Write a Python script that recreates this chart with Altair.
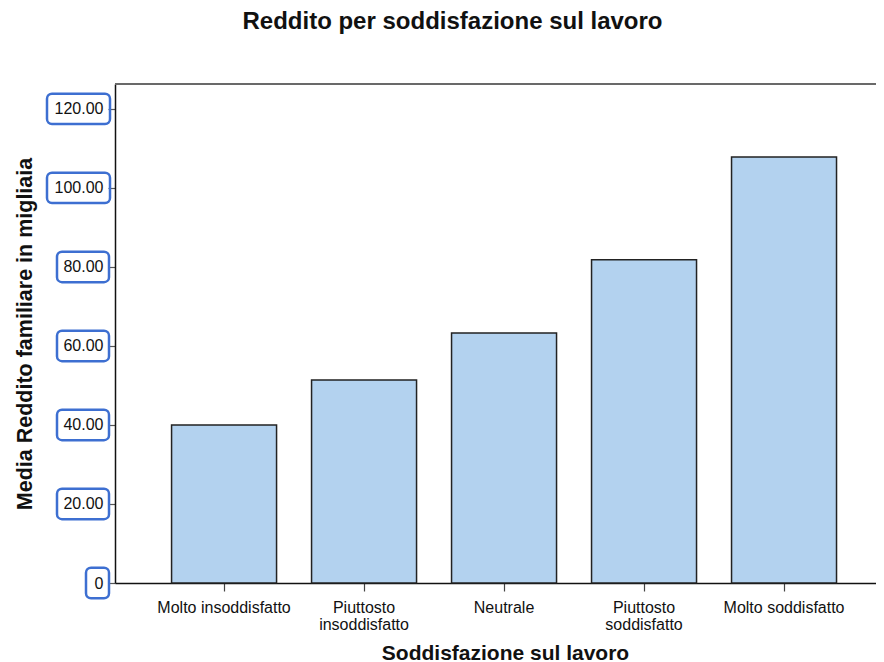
import altair as alt
import pandas as pd

categories = ["Molto insoddisfatto", "Piuttosto insoddisfatto", "Neutrale",
              "Piuttosto soddisfatto", "Molto soddisfatto"]
means = [40.0, 51.4, 63.3, 81.8, 107.8]
tick_values = [0, 20, 40, 60, 80, 100, 120]

W, H = 761, 499
FONT = "Liberation Sans"

bars_df = pd.DataFrame({"cat": categories, "mean": means})
ticks_df = pd.DataFrame({"v": tick_values})

x_scale = alt.Scale(domain=categories, paddingInner=0.25, paddingOuter=0.343, align=0.589)
y_scale = alt.Scale(domain=[0, 126.3], nice=False, zero=True)

bars = alt.Chart(bars_df).mark_bar(
    color="#b3d2ef", stroke="#222222", strokeWidth=1.5
).encode(
    x=alt.X("cat:N", scale=x_scale, sort=categories,
            axis=alt.Axis(title="Soddisfazione sul lavoro", labelAngle=0,
                          labelExpr="indexof(datum.label, 'Piuttosto') == 0 ? split(datum.label, ' ') : datum.label",
                          labelFont=FONT, labelFontSize=16, labelColor="#111",
                          labelLineHeight=17, labelPadding=8, labelBaseline="top",
                          tickSize=8, tickColor="#444", tickWidth=1.2,
                          domainColor="#111", domainWidth=1.5,
                          titleFont=FONT, titleFontSize=21, titleFontWeight="bold",
                          titleColor="#111", titleBaseline="alphabetic",
                          titleX=390, titleY=76, titleAnchor="middle", titleAlign="center")),
    y=alt.Y("mean:Q", scale=y_scale,
            axis=alt.Axis(title="Media Reddito familiare in migliaia", values=tick_values,
                          labelExpr="datum.value == 0 ? '0' : format(datum.value, '.2f')",
                          labelFont=FONT, labelFontSize=16, labelColor="#111",
                          labelPadding=5, tickSize=7, tickColor="#555", tickWidth=1.2,
                          domainColor="#111", domainWidth=1.5, grid=False,
                          titleFont=FONT, titleFontSize=21.5, titleFontWeight="bold",
                          titleColor="#111", titleBaseline="alphabetic", titleAngle=270,
                          titleX=-84, titleY=H / 2, titleAlign="center", titleAnchor="middle")),
)

box_base = alt.Chart(ticks_df).transform_calculate(
    y1="datum.v - 3.85", y2="datum.v + 3.85"
)
box_style = dict(fillOpacity=0, stroke="#3d6fd1", strokeWidth=2.5, cornerRadius=5)

box_wide = box_base.transform_filter("datum.v >= 100").mark_rect(**box_style).encode(
    x=alt.value(-68), x2=alt.value(-5),
    y=alt.Y("y1:Q", scale=y_scale), y2="y2:Q")
box_mid = box_base.transform_filter("datum.v > 0 && datum.v < 100").mark_rect(**box_style).encode(
    x=alt.value(-58), x2=alt.value(-6),
    y=alt.Y("y1:Q", scale=y_scale), y2="y2:Q")
box_zero = box_base.transform_filter("datum.v == 0").mark_rect(**box_style).encode(
    x=alt.value(-29), x2=alt.value(-6),
    y=alt.Y("y1:Q", scale=y_scale), y2="y2:Q")

top_line = alt.Chart(bars_df).mark_rule(color="#6a6a6a", strokeWidth=1.5).encode(
    x=alt.value(0), x2=alt.value(W), y=alt.value(0))

chart = alt.layer(bars, box_wide, box_mid, box_zero, top_line).properties(
    width=W, height=H,
    title=alt.TitleParams("Reddito per soddisfazione sul lavoro", font=FONT, fontSize=24,
                          fontWeight="bold", color="#111", baseline="alphabetic",
                          offset=30, dx=-43, anchor="middle"),
    autosize=alt.AutoSizeParams(type="none"),
    padding={"left": 107, "top": 76, "right": 0, "bottom": 79},
).configure_view(fill="#efefef", stroke=None).configure(background="white")

chart.save("out.html", embed_options={"renderer": "svg", "actions": False})
